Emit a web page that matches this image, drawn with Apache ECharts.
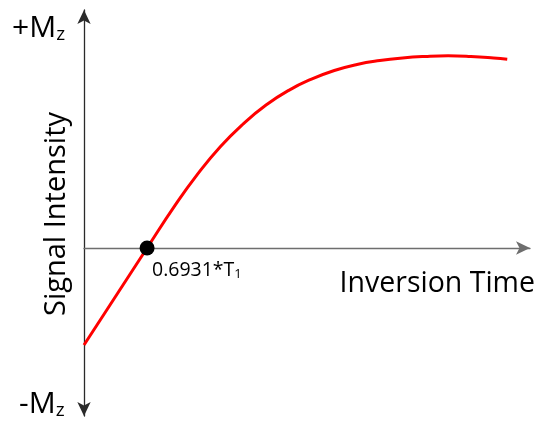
<!DOCTYPE html>
<html>
<head>
<meta charset="utf-8">
<script src="https://cdn.jsdelivr.net/npm/echarts@6/dist/echarts.min.js"></script>
<style>
  html, body { margin: 0; padding: 0; background: #fff; }
  #chart { width: 539px; height: 423px; }
</style>
</head>
<body>
<div id="chart"></div>
<script>
// Inversion-recovery signal: time in units of T1, signal in units of Mz
const inversionTime = [0, 0.25, 0.5, 0.6931, 1.0, 1.25, 1.5, 1.75, 2.0, 2.25, 2.5, 2.75, 3.0, 3.25, 3.5, 3.75, 4.0, 4.25, 4.5, 4.65];
const signalIntensity = [-0.449, -0.287, -0.125, 0, 0.197, 0.343, 0.470, 0.575, 0.662, 0.730, 0.782, 0.822, 0.850, 0.868, 0.880, 0.887, 0.890, 0.887, 0.880, 0.874];
const nullPoint = [0.6931, 0];
const nullLabel = '0.6931*T';
const nullLabelSub = '1';
const topLabel = '+M';
const bottomLabel = '-M';
const magSub = 'z';
const xTitle = 'Inversion Time';
const yTitle = 'Signal Intensity';

const FONT = '"Open Sans", sans-serif';
const chart = echarts.init(document.getElementById('chart'), null, { renderer: 'canvas' });

chart.setOption({
  animation: false,
  backgroundColor: '#ffffff',
  grid: { left: 84, right: 9, top: 10, bottom: 7 },
  xAxis: {
    type: 'value',
    min: 0,
    max: 4.9,
    axisLine: {
      show: true,
      onZero: true,
      symbol: ['none', 'arrow'],
      symbolSize: [10, 14],
      lineStyle: { color: '#6e6e6e', width: 1.3 }
    },
    axisTick: { show: false },
    axisLabel: { show: false },
    splitLine: { show: false }
  },
  yAxis: {
    type: 'value',
    min: -0.778,
    max: 1.102,
    axisLine: {
      show: true,
      symbol: ['arrow', 'arrow'],
      symbolSize: [10, 14],
      lineStyle: { color: '#2a2a2a', width: 1.3 }
    },
    axisTick: { show: false },
    axisLabel: { show: false },
    splitLine: { show: false }
  },
  series: [
    {
      type: 'line',
      data: inversionTime.map((t, i) => [t, signalIntensity[i]]),
      smooth: 0.5,
      showSymbol: false,
      lineStyle: { color: '#ff0000', width: 3 },
      z: 2
    },
    {
      type: 'scatter',
      data: [nullPoint],
      symbolSize: 15,
      itemStyle: { color: '#000000', opacity: 1 },
      z: 3
    }
  ],
  graphic: [
    {
      type: 'text', left: 12, top: 13,
      style: {
        text: '{a|' + topLabel + '}{s|' + magSub + '}',
        rich: {
          a: { fontFamily: FONT, fontSize: 30, fill: '#000' },
          s: { fontFamily: FONT, fontSize: 19, fill: '#000', padding: [14, 0, 0, 0] }
        }
      }
    },
    {
      type: 'text', left: 19, top: 389,
      style: {
        text: '{a|' + bottomLabel + '}{s|' + magSub + '}',
        rich: {
          a: { fontFamily: FONT, fontSize: 30, fill: '#000' },
          s: { fontFamily: FONT, fontSize: 19, fill: '#000', padding: [14, 0, 0, 0] }
        }
      }
    },
    {
      type: 'text', x: 57, y: 214, rotation: Math.PI / 2,
      style: {
        text: yTitle, fontFamily: FONT, fontSize: 29, fill: '#000',
        align: 'center', verticalAlign: 'middle'
      }
    },
    {
      type: 'text', right: 4, top: 269,
      style: { text: xTitle, fontFamily: FONT, fontSize: 28.5, fill: '#000' }
    },
    {
      type: 'text', left: 152, top: 260,
      style: {
        text: '{a|' + nullLabel + '}{s|' + nullLabelSub + '}',
        rich: {
          a: { fontFamily: FONT, fontSize: 19.5, fill: '#000' },
          s: { fontFamily: FONT, fontSize: 13, fill: '#000', padding: [8, 0, 0, 0] }
        }
      }
    }
  ]
});
</script>
</body>
</html>
